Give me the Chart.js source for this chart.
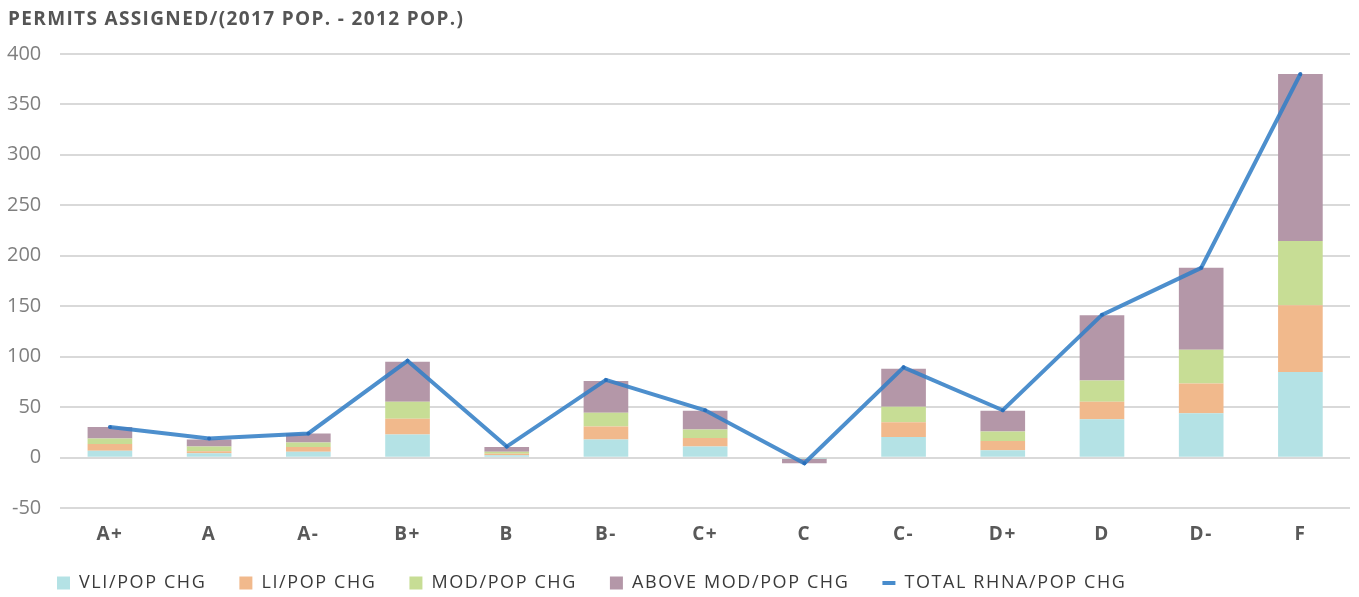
<!DOCTYPE html>
<html>
<head>
<meta charset="utf-8">
<script src="https://cdn.jsdelivr.net/npm/chart.js@4.4.1/dist/chart.umd.min.js"></script>
<style>
  html, body { margin: 0; padding: 0; background: #ffffff; }
  #wrap { width: 1359px; height: 597px; }
</style>
</head>
<body>
<div id="wrap"><canvas id="c" width="1359" height="597"></canvas></div>
<script>
const categories = ['A+', 'A', 'A-', 'B+', 'B', 'B-', 'C+', 'C', 'C-', 'D+', 'D', 'D-', 'F'];
const vliPopChg   = [7, 4.5, 6, 23, 2.5, 18, 11, -0.2, 20.5, 7.5, 38, 44, 85];
const liPopChg    = [6.5, 2, 4.5, 15.5, 1.5, 13, 8.5, -0.5, 14.5, 9, 17.5, 29.5, 66];
const modPopChg   = [5.5, 4.5, 4.5, 17, 2, 13.5, 8.5, -0.2, 15.5, 9.5, 21, 33.5, 63.5];
const aboveModPopChg = [11.5, 7, 9, 39.5, 4.5, 31.5, 18.5, -4.5, 37.5, 20.5, 64.5, 81, 165.5];
const totalRhnaPopChg = [30.5, 19, 24, 96, 11, 77, 47, -5.5, 89.5, 47, 141.5, 188, 380];
const yTicks = [-50, 0, 50, 100, 150, 200, 250, 300, 350, 400];

const FONT = '"Open Sans", Lato, sans-serif';

function barSet(label, data, color) {
  return {
    type: 'bar', label, data, backgroundColor: color, borderWidth: 0,
    stack: 'bars', order: 1, barPercentage: 0.45, categoryPercentage: 1.0
  };
}

function withSpacing(obj, method, spacing) {
  const orig = obj[method];
  if (!orig || orig.__spaced) return;
  const fn = function (...args) {
    const ctx = this.ctx || (this.chart && this.chart.ctx);
    const prev = ctx.letterSpacing;
    ctx.letterSpacing = spacing;
    try { return orig.apply(this, args); } finally { ctx.letterSpacing = prev || '0px'; }
  };
  fn.__spaced = true;
  obj[method] = fn;
}

const typography = {
  id: 'typography',
  afterInit(chart) {
    if (chart.legend) { withSpacing(chart.legend, 'fit', '1.6px'); withSpacing(chart.legend, 'draw', '1.6px'); }
    if (chart.titleBlock) { withSpacing(chart.titleBlock, 'draw', '1.35px'); }
  },
  afterLayout(chart) {
    const lg = chart.legend;
    if (lg) {
      const dx = 36, dy = -12;
      lg.left += dx; lg.right += dx; lg.top += dy; lg.bottom += dy;
    }
    const tb = chart.titleBlock;
    if (tb) { tb.left += 20; tb.right += 20; }
  },
  beforeDraw(chart) {
    if (chart.scales.x) withSpacing(chart.scales.x, 'drawLabels', '1.5px');
  }
};

new Chart(document.getElementById('c'), {
  plugins: [typography],
  data: {
    labels: categories,
    datasets: [
      barSet('VLI/POP CHG', vliPopChg, '#b4e2e5'),
      barSet('LI/POP CHG', liPopChg, '#f1b98c'),
      barSet('MOD/POP CHG', modPopChg, '#c7dd95'),
      barSet('ABOVE MOD/POP CHG', aboveModPopChg, '#b497a8'),
      {
        type: 'line', label: 'TOTAL RHNA/POP CHG', data: totalRhnaPopChg,
        borderColor: 'rgba(52,128,198,0.88)', backgroundColor: 'rgba(40,110,185,0.95)',
        borderWidth: 4, pointRadius: 2, pointBorderWidth: 0, pointHoverRadius: 2,
        tension: 0, stack: 'line', order: 0, fill: false
      }
    ]
  },
  options: {
    responsive: false,
    animation: false,
    layout: { padding: { left: -12, right: 9, top: 0, bottom: -17 } },
    plugins: {
      tooltip: { enabled: false },
      title: {
        display: true, text: 'PERMITS ASSIGNED/(2017 POP. - 2012 POP.)',
        align: 'start', color: '#555555',
        font: { family: FONT, size: 19, weight: 'bold' },
        padding: { top: 8, bottom: 23 }
      },
      legend: {
        position: 'bottom', align: 'start',
        labels: {
          color: '#3a3a3a',
          font: { family: FONT, size: 18 },
          usePointStyle: true, pointStyleWidth: 13, boxHeight: 13, boxWidth: 13,
          padding: 33,
          sort: (a, b) => a.datasetIndex - b.datasetIndex,
          generateLabels: (chart) => {
            const items = Chart.defaults.plugins.legend.labels.generateLabels(chart);
            items.forEach(it => {
              if (it.datasetIndex === 4) {
                it.pointStyle = 'line'; it.strokeStyle = 'rgba(52,128,198,0.9)'; it.lineWidth = 4;
              } else {
                it.pointStyle = 'rect'; it.lineWidth = 0;
              }
            });
            return items;
          }
        }
      }
    },
    scales: {
      x: {
        stacked: true,
        grid: { display: false },
        border: { display: false },
        ticks: { color: '#595959', font: { family: FONT, size: 19, weight: 'bold' }, padding: 7 }
      },
      y: {
        stacked: true,
        min: -50, max: 400,
        afterBuildTicks: (axis) => { axis.ticks = yTicks.map(v => ({ value: v })); },
        grid: { color: '#d9d9d9', lineWidth: 2, drawTicks: false },
        border: { display: false },
        ticks: { color: '#7f7f7f', font: { family: FONT, size: 20 }, padding: 19 }
      }
    }
  }
});
</script>
</body>
</html>
